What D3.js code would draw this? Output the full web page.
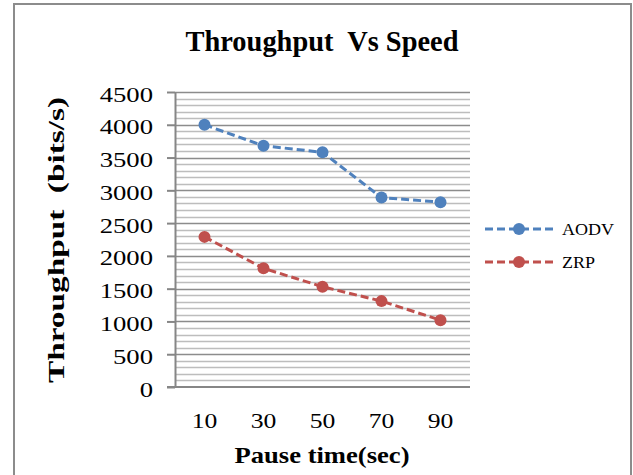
<!DOCTYPE html>
<meta charset="utf-8">
<style>
	body { margin: 0; background: #fff; }
	svg { font-family: "Liberation Serif", "Times New Roman", serif; }
	svg text { white-space: pre; }
	.axis { font-family: "Liberation Serif", "Times New Roman", serif; }
	.axis path, .axis line { stroke: #868686; }
	.axis text { font-size: 21px; fill: #000; }
</style>
<script src="https://d3js.org/d3.v7.min.js"></script>
<svg width="633" height="475" class="chart"></svg>
<script>
	var pauseTimes = ["10", "30", "50", "70", "90"];
	var aodv = [4000, 3680, 3580, 2890, 2820];
	var zrp = [2290, 1810, 1530, 1310, 1020];
	var seriesNames = ["AODV", "ZRP"];
	var seriesColors = ["#4f81bd", "#c0504d"];
	var yTicks = [0, 500, 1000, 1500, 2000, 2500, 3000, 3500, 4000, 4500];

	var series = [
		{name: seriesNames[0], color: seriesColors[0], values: aodv},
		{name: seriesNames[1], color: seriesColors[1], values: zrp}
	];

	// the source picture is a bit wider than the fonts, stretch text to fit
	function stretch(sel, f) {
		sel.each(function() {
			var n = this.getComputedTextLength();
			d3.select(this).attr("textLength", n * f).attr("lengthAdjust", "spacingAndGlyphs");
		});
	}

	var svg = d3.select(".chart"),
			margin = {top: 92, left: 175},
			width = 470 - margin.left,
			height = 387 - margin.top;

	// outer frame
	svg.append("path")
		.attr("d", "M14,480 V4 H631 V480")
		.attr("fill", "none")
		.attr("stroke", "#8c8c8c")
		.attr("stroke-width", 2);

	var x = d3.scaleBand()
		.domain(pauseTimes)
		.range([0, width]);

	var y = d3.scaleLinear()
		.domain([0, 4500])
		.range([height, 0]);

	var g = svg.append("g")
		.attr("transform", "translate(" + margin.left + "," + margin.top + ")");

	// minor grid every 100
	g.append("g")
		.selectAll("line")
		.data(d3.range(100, 4600, 100).filter(function(v) { return v % 500 !== 0; }))
		.enter().append("line")
			.attr("x1", 0).attr("x2", width)
			.attr("y1", function(d) { return Math.round(y(d)) + 0.5; })
			.attr("y2", function(d) { return Math.round(y(d)) + 0.5; })
			.attr("stroke", "#bdbdbd")
			.attr("stroke-width", 1.3);

	// major grid
	g.append("g")
		.selectAll("line")
		.data(yTicks.slice(1))
		.enter().append("line")
			.attr("x1", 0).attr("x2", width)
			.attr("y1", function(d) { return Math.round(y(d)) + 0.5; })
			.attr("y2", function(d) { return Math.round(y(d)) + 0.5; })
			.attr("stroke", "#8c8c8c")
			.attr("stroke-width", 1.5);

	var yAxis = g.append("g")
		.attr("class", "axis axis--y")
		.call(d3.axisLeft(y).tickValues(yTicks).tickFormat(d3.format("d")).tickSize(8).tickPadding(14).tickSizeOuter(0));
	yAxis.selectAll("path, line").attr("stroke-width", 2);
	yAxis.selectAll("text").attr("dy", 9).call(stretch, 1.27);

	var xAxis = g.append("g")
		.attr("class", "axis axis--x")
		.attr("transform", "translate(0," + height + ")")
		.call(d3.axisBottom(x).tickSize(0));
	xAxis.select(".domain").attr("d", "M-8,0H" + width).attr("stroke-width", 2);
	xAxis.selectAll("text").attr("y", 41).attr("dy", 0).call(stretch, 1.22);

	svg.append("text")
		.attr("x", 322)
		.attr("y", 51)
		.attr("text-anchor", "middle")
		.attr("font-weight", "bold")
		.attr("font-size", 29)
		.attr("textLength", 273)
		.attr("lengthAdjust", "spacingAndGlyphs")
		.text("Throughput  Vs Speed");

	svg.append("text")
		.attr("x", 322)
		.attr("y", 463)
		.attr("text-anchor", "middle")
		.attr("font-weight", "bold")
		.attr("font-size", 24)
		.attr("textLength", 175)
		.attr("lengthAdjust", "spacingAndGlyphs")
		.text("Pause time(sec)");

	svg.append("text")
		.attr("transform", "rotate(-90)")
		.attr("x", -240)
		.attr("y", 64)
		.attr("text-anchor", "middle")
		.attr("font-weight", "bold")
		.attr("font-size", 24)
		.attr("textLength", 286)
		.attr("lengthAdjust", "spacingAndGlyphs")
		.text("Throughput  (bits/s)");

	var line = d3.line()
		.x(function(d, i) { return x(pauseTimes[i]) + x.bandwidth() / 2; })
		.y(function(d) { return y(d); });

	var s = g.selectAll(".series")
		.data(series)
		.enter().append("g")
			.attr("class", "series");

	s.append("path")
		.attr("d", function(d) { return line(d.values); })
		.attr("fill", "none")
		.attr("stroke", function(d) { return d.color; })
		.attr("stroke-width", 3)
		.attr("stroke-dasharray", "8,4");

	s.selectAll("circle")
		.data(function(d) { return d.values.map(function(v) { return {v: v, color: d.color}; }); })
		.enter().append("circle")
			.attr("cx", function(d, i) { return x(pauseTimes[i]) + x.bandwidth() / 2; })
			.attr("cy", function(d) { return y(d.v); })
			.attr("r", 6)
			.attr("fill", function(d) { return d.color; });

	// legend
	var legend = svg.append("g")
		.selectAll("g")
		.data(series)
		.enter().append("g")
			.attr("transform", function(d, i) { return "translate(485," + (229 + i * 33) + ")"; });

	legend.append("line")
		.attr("x1", 0).attr("x2", 70)
		.attr("stroke", function(d) { return d.color; })
		.attr("stroke-width", 3)
		.attr("stroke-dasharray", "8,4");

	legend.append("circle")
		.attr("cx", 34)
		.attr("r", 6)
		.attr("fill", function(d) { return d.color; });

	legend.append("text")
		.attr("x", 77)
		.attr("dy", "0.35em")
		.attr("font-size", 17)
		.text(function(d) { return d.name; })
		.call(stretch, 1.06);
</script>
